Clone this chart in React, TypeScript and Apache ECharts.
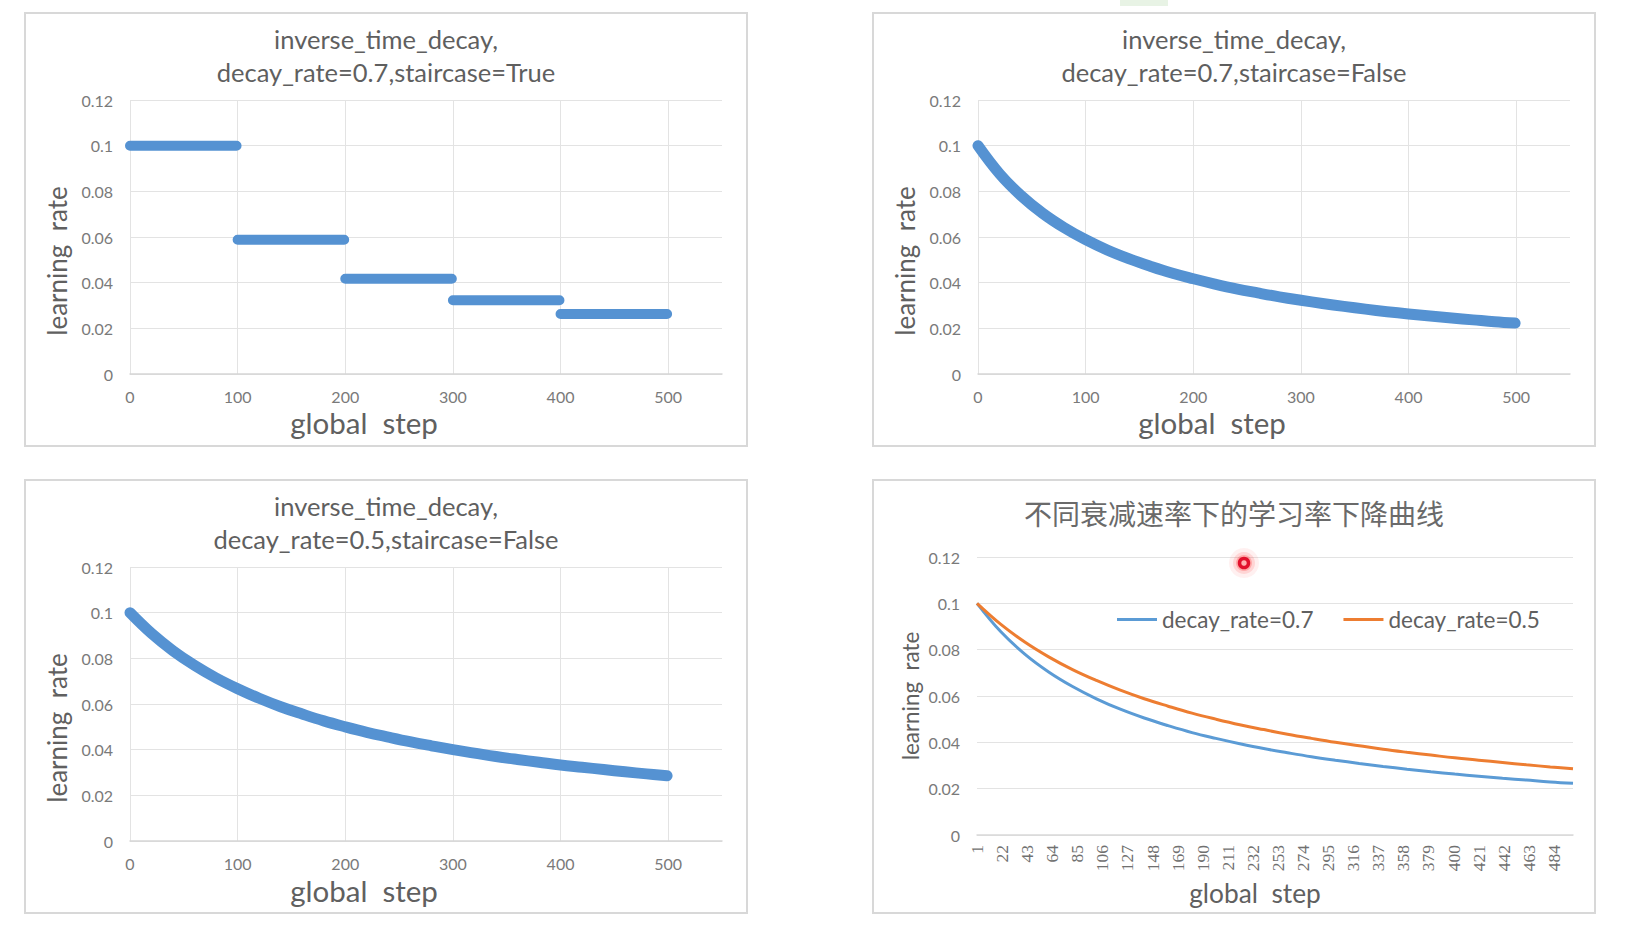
import React, { useEffect, useRef } from 'react';
import * as echarts from 'echarts';

// ---- data ----
const steps = [0, 20, 40, 60, 80, 100, 120, 140, 160, 180, 200, 220, 240, 260, 280, 300, 320, 340, 360, 380, 400, 420, 440, 460, 480, 499];
const lrRate07 = [0.1, 0.0877, 0.0781, 0.0704, 0.0641, 0.0588, 0.0543, 0.0505, 0.0472, 0.0442, 0.0417, 0.0394, 0.0373, 0.0355, 0.0338, 0.0323, 0.0309, 0.0296, 0.0284, 0.0273, 0.0263, 0.0254, 0.0245, 0.0237, 0.0229, 0.0223];
const lrRate05 = [0.1, 0.0909, 0.0833, 0.0769, 0.0714, 0.0667, 0.0625, 0.0588, 0.0556, 0.0526, 0.05, 0.0476, 0.0455, 0.0435, 0.0417, 0.04, 0.0385, 0.037, 0.0357, 0.0345, 0.0333, 0.0323, 0.0313, 0.0303, 0.0294, 0.0286];
const stairStart = [0, 100, 200, 300, 400];
const stairEnd = [99, 199, 299, 399, 499];
const stairLevel = [0.1, 0.0588, 0.0417, 0.0323, 0.0263];

const titleTexts = [
  'inverse_time_decay,\ndecay_rate=0.7,staircase=True',
  'inverse_time_decay,\ndecay_rate=0.7,staircase=False',
  'inverse_time_decay,\ndecay_rate=0.5,staircase=False',
  '不同衰减速率下的学习率下降曲线',
];
const legendNames = ['decay_rate=0.7', 'decay_rate=0.5'];
const yAxisName = 'learning  rate';
const xAxisName = 'global  step';

const FONT = 'Lato, "Open Sans", sans-serif';
const CJK = '"Noto Sans CJK SC", sans-serif';
const BLUE = '#5592d2';
const BLUE2 = '#5b9bd5';
const ORANGE = '#ed7d31';
const GRID_C = '#e3e3e3';
const LABEL_C = '#7a7a7a';
const TITLE_C = '#5f5f5f';

const yFmt = (v: number) => String(+v.toFixed(2));

export default function App() {
  const ref = useRef<HTMLDivElement>(null);
  useEffect(() => {
    if (!ref.current) return;
    const chart = echarts.init(ref.current, undefined, { renderer: 'svg' });

    const grids = [
      { left: 130, top: 100, width: 592, height: 274 },
      { left: 978, top: 100, width: 592, height: 274 },
      { left: 130, top: 567, width: 592, height: 274 },
      { left: 977, top: 557, width: 596, height: 278 },
    ];

    const stairData: any[] = [];
    stairStart.forEach((s, i) => {
      if (i > 0) stairData.push([s, '-']);
      stairData.push([s, stairLevel[i]]);
      stairData.push([stairEnd[i], stairLevel[i]]);
    });
    const pts07 = steps.map((s, i) => [s, lrRate07[i]]);
    const pts05 = steps.map((s, i) => [s, lrRate05[i]]);

    const xAxes: any[] = [0, 1, 2].map((i) => ({
      type: 'value', gridIndex: i, min: 0, max: 550, interval: 100,
      axisLine: { show: true, lineStyle: { color: '#d6d6d6', width: 1.5 } },
      axisTick: { show: false },
      axisLabel: { color: LABEL_C, fontSize: 16, fontFamily: FONT, margin: 14, showMaxLabel: false },
      splitLine: { show: true, showMaxLine: false, lineStyle: { color: GRID_C, width: 1 } },
    }));
    xAxes.push({
      type: 'value', gridIndex: 3, min: 0, max: 499, interval: 21,
      axisLine: { show: true, lineStyle: { color: '#d9d9d9', width: 1.5 } },
      axisTick: { show: false },
      splitLine: { show: false },
      axisLabel: {
        rotate: 90, formatter: (v: number) => String(v + 1), showMaxLabel: false,
        margin: 10, fontFamily: '"Liberation Serif", serif', fontSize: 17.5, color: '#707070',
      },
    });
    const yAxes: any[] = [0, 1, 2, 3].map((i) => ({
      type: 'value', gridIndex: i, min: 0, max: 0.12, interval: 0.02,
      axisLine: { show: false }, axisTick: { show: false },
      axisLabel: { color: LABEL_C, fontSize: 16, fontFamily: FONT, margin: 17, formatter: yFmt },
      splitLine: { show: true, lineStyle: { color: GRID_C, width: 1 } },
    }));

    const titles: any[] = [
      { text: titleTexts[0], left: 386, top: 22 },
      { text: titleTexts[1], left: 1234, top: 22 },
      { text: titleTexts[2], left: 386, top: 489 },
    ].map((t) => ({
      ...t, textAlign: 'center', padding: 0,
      textStyle: { fontSize: 25.5, lineHeight: 33, fontWeight: 'normal', color: TITLE_C, fontFamily: FONT },
    }));
    titles.push({
      text: titleTexts[3], left: 1234, top: 496, textAlign: 'center', padding: 0,
      textStyle: { fontSize: 28, lineHeight: 34, fontWeight: 'normal', color: '#6a6a6a', fontFamily: CJK },
    });

    const panelRects = [
      [25, 13], [873, 13], [25, 480], [873, 480],
    ].map(([x, y]) => ({
      type: 'rect', shape: { x, y, width: 722, height: 433 },
      style: { fill: 'none', stroke: '#d8d8d8', lineWidth: 2 }, silent: true, z: -1,
    }));

    const nameText = (text: string, x: number, y: number, size: number, rot = 0) => ({
      type: 'text', x, y, rotation: rot,
      style: { text, fill: '#606060', font: `${size}px ${FONT}`, align: 'center', verticalAlign: 'middle' },
      silent: true,
    });

    const graphics: any[] = [
      ...panelRects,
      nameText(yAxisName, 57, 261, 26, Math.PI / 2),
      nameText(yAxisName, 905, 261, 26, Math.PI / 2),
      nameText(yAxisName, 57, 728, 26, Math.PI / 2),
      nameText(yAxisName, 910, 696, 22.4, Math.PI / 2),
      nameText(xAxisName, 364, 422, 29.5),
      nameText(xAxisName, 1212, 422, 29.5),
      nameText(xAxisName, 364, 890, 29.5),
      nameText(xAxisName, 1255, 893, 26.3),
      {
        type: 'rect', shape: { x: 1120, y: 0, width: 48, height: 6 },
        style: { fill: '#e8f3e5' }, silent: true,
      },
      {
        type: 'circle', shape: { cx: 1244, cy: 563, r: 15 },
        style: { fill: 'rgba(255,60,60,0.08)' }, silent: true, z: 100,
      },
      {
        type: 'circle', shape: { cx: 1244, cy: 563, r: 11 },
        style: { fill: 'rgba(255,50,50,0.14)' }, silent: true, z: 100,
      },
      {
        type: 'circle', shape: { cx: 1244, cy: 563, r: 8 },
        style: { fill: 'rgba(255,40,40,0.25)' }, silent: true, z: 100,
      },
      {
        type: 'circle', shape: { cx: 1244, cy: 563, r: 4.5 },
        style: { fill: '#ffb0b0', stroke: '#e2102c', lineWidth: 3.5 },
        silent: true, z: 101,
      },
    ];

    const thick = (idx: number, data: any[], width: number, smooth: any) => ({
      type: 'line', xAxisIndex: idx, yAxisIndex: idx, data, symbol: 'none', smooth,
      connectNulls: false,
      lineStyle: { color: BLUE, width, cap: 'round', join: 'round' },
      itemStyle: { color: BLUE },
    });

    chart.setOption({
      animation: false,
      backgroundColor: '#ffffff',
      title: titles,
      grid: grids,
      xAxis: xAxes,
      yAxis: yAxes,
      legend: {
        data: legendNames, left: 1117, top: 608, icon: 'rect', itemWidth: 40, itemHeight: 3,
        itemGap: 30, padding: 0,
        textStyle: { fontSize: 22.5, color: '#606060', fontFamily: FONT },
      },
      graphic: graphics,
      series: [
        thick(0, stairData, 10, false),
        thick(1, pts07, 11, 0.4),
        thick(2, pts05, 11, 0.4),
        {
          name: legendNames[0], type: 'line', xAxisIndex: 3, yAxisIndex: 3, data: pts07,
          symbol: 'none', smooth: 0.4,
          lineStyle: { color: BLUE2, width: 3 }, itemStyle: { color: BLUE2 },
        },
        {
          name: legendNames[1], type: 'line', xAxisIndex: 3, yAxisIndex: 3, data: pts05,
          symbol: 'none', smooth: 0.4,
          lineStyle: { color: ORANGE, width: 3 }, itemStyle: { color: ORANGE },
        },
      ],
    });
    return () => chart.dispose();
  }, []);
  return (
    <div
      ref={ref}
      style={{ position: 'absolute', left: 0, top: 0, width: 1637, height: 939, background: '#fff' }}
    />
  );
}
